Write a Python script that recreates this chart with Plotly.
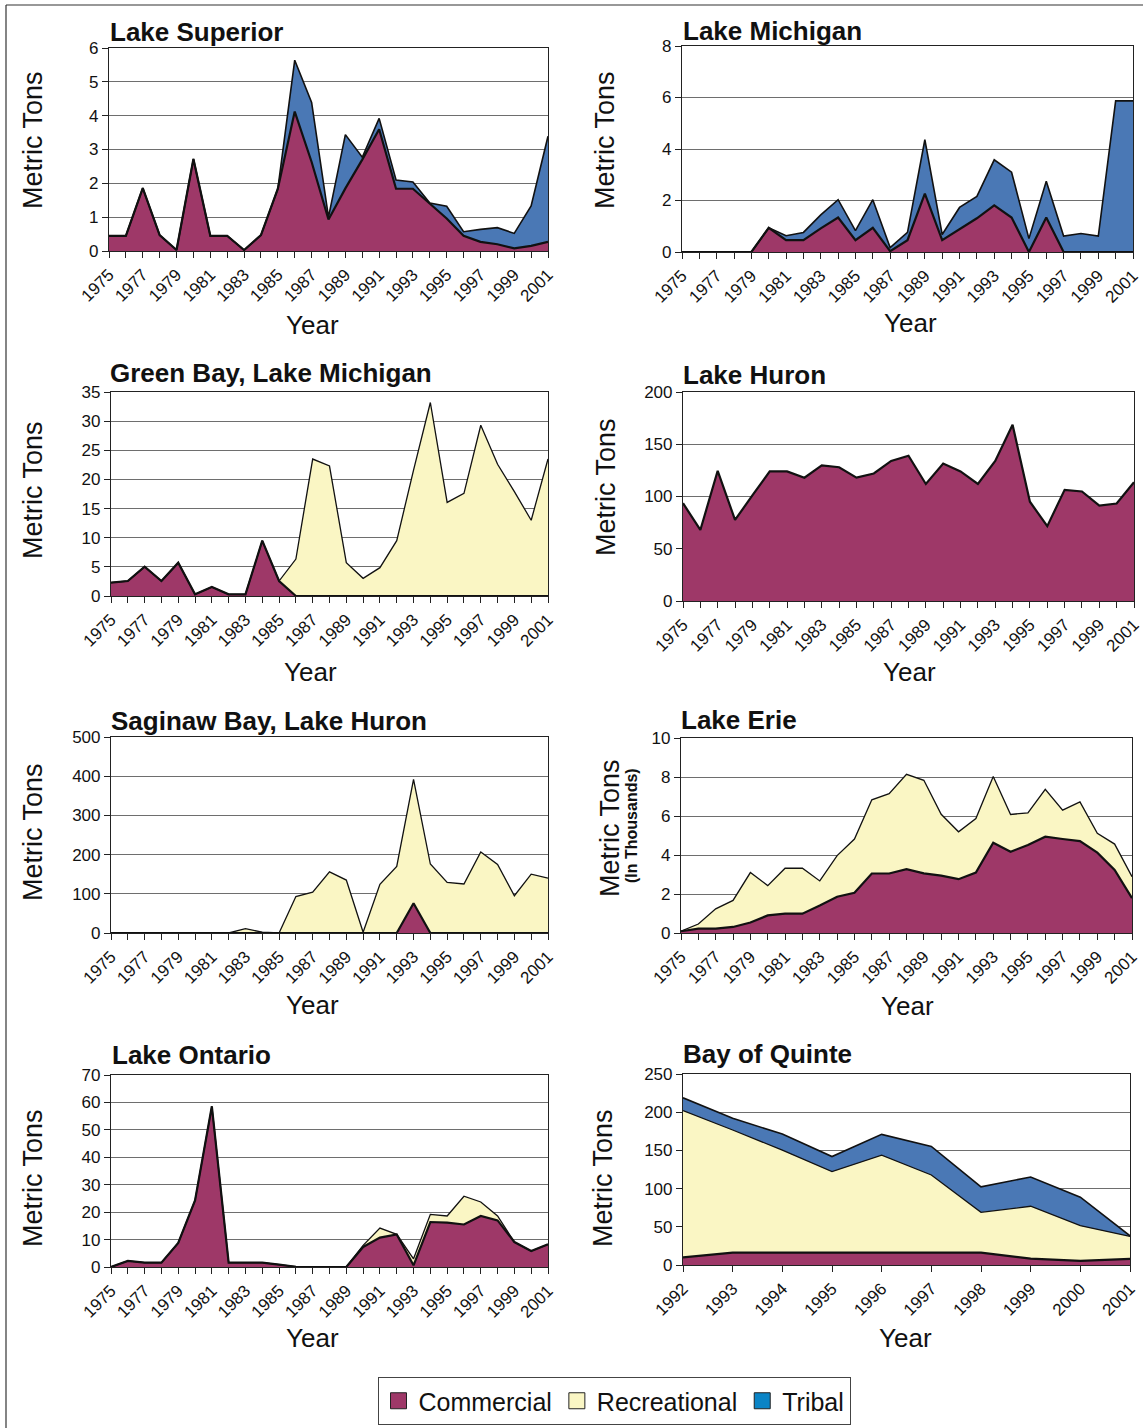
import plotly.graph_objects as go

W, H = 1143, 1428

years = list(range(1975, 2002))
quinte_years = list(range(1992, 2002))

superior_commercial = [0.45, 0.45, 1.86, 0.47, 0.03, 2.72, 0.45, 0.45, 0.03, 0.47, 1.84, 4.12, 2.63, 0.93,
                       1.85, 2.70, 3.60, 1.84, 1.84, 1.40, 0.96, 0.45, 0.27, 0.20, 0.08, 0.15, 0.27]
superior_tribal = [0, 0, 0, 0, 0, 0, 0, 0, 0, 0, 0, 1.52, 1.76, 0.07,
                   1.59, 0.07, 0.32, 0.26, 0.20, 0.02, 0.36, 0.12, 0.37, 0.49, 0.44, 1.18, 3.12]

michigan_commercial = [0, 0, 0, 0, 0, 0.94, 0.46, 0.46, 0.92, 1.34, 0.46, 0.94, 0.03, 0.46,
                       2.27, 0.46, 0.89, 1.31, 1.81, 1.34, 0, 1.34, 0, 0, 0, 0, 0]
michigan_tribal = [0, 0, 0, 0, 0, 0, 0.17, 0.30, 0.52, 0.69, 0.37, 1.09, 0.14, 0.30,
                   2.09, 0.22, 0.84, 0.85, 1.77, 1.76, 0.52, 1.41, 0.62, 0.72, 0.62, 5.87, 5.87]

greenbay_commercial = [2.29, 2.57, 5.03, 2.57, 5.71, 0.29, 1.54, 0.29, 0.29, 9.49, 2.57, 0, 0, 0,
                       0, 0, 0, 0, 0, 0, 0, 0, 0, 0, 0, 0, 0]
greenbay_recreational = [0, 0, 0, 0, 0, 0, 0, 0, 0, 0, 0, 6.34, 23.5, 22.3,
                         5.71, 3.03, 4.86, 9.49, 21.6, 33.2, 16.06, 17.6, 29.3, 22.6, 17.9, 13.0, 23.5]

huron_commercial = [93.6, 68, 124.6, 77.6, 101, 124, 124, 118, 129.7, 128, 118, 122, 134, 139,
                    112, 131.6, 124, 112, 134, 168.7, 95, 71.6, 106.4, 104.8, 91.4, 93.3, 113.7]

saginaw_commercial = [0, 0, 0, 0, 0, 0, 0, 0, 0, 0, 0, 0, 0, 0,
                      0, 0, 0, 0, 76, 0, 0, 0, 0, 0, 0, 0, 0]
saginaw_recreational = [0, 0, 0, 0, 0, 0, 0, 0, 11, 2, 0, 93, 104, 156,
                        135, 2, 124, 170, 316, 176, 129, 125, 207, 175, 95, 150, 140]

erie_commercial = [0.09, 0.22, 0.22, 0.31, 0.54, 0.90, 0.99, 0.99, 1.41, 1.86, 2.06, 3.05, 3.05, 3.27,
                   3.06, 2.94, 2.76, 3.10, 4.63, 4.17, 4.51, 4.94, 4.82, 4.71, 4.12, 3.23, 1.79]
erie_recreational = [0, 0.24, 1.02, 1.36, 2.56, 1.53, 2.33, 2.33, 1.26, 2.11, 2.76, 3.78, 4.10, 4.87,
                     4.77, 3.15, 2.43, 2.77, 3.40, 1.91, 1.65, 2.43, 1.48, 2.01, 0.99, 1.33, 1.10]

ontario_commercial = [0, 2.2, 1.6, 1.6, 8.8, 24.3, 58.6, 1.6, 1.6, 1.6, 0.85, 0.1, 0, 0,
                      0, 7.3, 10.7, 11.9, 0.6, 16.4, 16.2, 15.5, 18.6, 17.0, 9.1, 5.8, 8.3]
ontario_recreational = [0, 0, 0, 0, 0, 0, 0, 0, 0, 0, 0, 0, 0, 0,
                        0, 0.6, 3.5, 0, 2.4, 2.8, 2.4, 10.3, 5.1, 1.6, 0, 0, 0]

quinte_commercial = [10.1, 16.3, 16.3, 16.3, 16.3, 16.3, 16.3, 8.4, 5.3, 7.9]
quinte_recreational = [191.9, 160.4, 134.0, 105.9, 127.4, 101.5, 52.7, 68.5, 46.1, 29.5]
quinte_tribal = [16.9, 15.3, 21.1, 19.8, 27.3, 37.4, 33.4, 38.3, 37.4, 0.8]

panel_titles = ["Lake Superior", "Lake Michigan", "Green Bay, Lake Michigan", "Lake Huron",
                "Saginaw Bay, Lake Huron", "Lake Erie", "Lake Ontario", "Bay of Quinte"]
y_ranges = [(6, 1), (8, 2), (35, 5), (200, 50), (500, 100), (10, 2), (70, 10), (250, 50)]

COL_COM = "#9E3868"
COL_REC = "#FAF6C4"
COL_TRI = "#4A78B5"
COL_TRI_LEG = "#0A84C6"
FONT = "Liberation Sans, Arial, sans-serif"

panels = [
    (years, [("Commercial", superior_commercial), ("Tribal", superior_tribal)]),
    (years, [("Commercial", michigan_commercial), ("Tribal", michigan_tribal)]),
    (years, [("Commercial", greenbay_commercial), ("Recreational", greenbay_recreational)]),
    (years, [("Commercial", huron_commercial)]),
    (years, [("Commercial", saginaw_commercial), ("Recreational", saginaw_recreational)]),
    (years, [("Commercial", erie_commercial), ("Recreational", erie_recreational)]),
    (years, [("Commercial", ontario_commercial), ("Recreational", ontario_recreational)]),
    (quinte_years, [("Commercial", quinte_commercial), ("Recreational", quinte_recreational),
                    ("Tribal", quinte_tribal)]),
]

# plot-area boxes in pixels: (left, right, top, bottom)
boxes = [
    (109, 548, 48, 251), (682, 1133, 46, 252),
    (111, 548, 392, 596), (683, 1134, 392, 601),
    (111, 548, 737, 933), (681, 1132, 738, 933),
    (111, 548, 1075, 1267), (683, 1130, 1074, 1265),
]
title_pos = [(108, 32), (681, 31), (108, 373), (681, 375), (109, 721), (679, 720), (110, 1055), (681, 1054)]
year_pos = [(312, 325), (910, 323), (311, 672), (909, 672), (312, 1005), (907, 1006), (312, 1338), (905, 1338)]
ytitle_pos = [(33, 140), (605, 140), (33, 490), (606, 487), (33, 832), (610, 828), (33, 1178), (603, 1178)]

colors = {"Commercial": COL_COM, "Recreational": COL_REC, "Tribal": COL_TRI}
widths = {"Commercial": 2.2, "Recreational": 1.3, "Tribal": 1.6}

fig = go.Figure()
layout = {}
annotations = []

for i, ((xs, series), box) in enumerate(zip(panels, boxes)):
    n = i + 1
    xa = "x" if n == 1 else f"x{n}"
    ya = "y" if n == 1 else f"y{n}"
    for name, vals in series:
        fig.add_trace(go.Scatter(
            x=xs, y=vals, xaxis=xa, yaxis=ya, mode="lines", stackgroup=f"s{n}",
            line=dict(color="#111111", width=widths[name]),
            fillcolor=colors[name], showlegend=False, hoverinfo="skip", name=name))
    l, r, t, b = box
    ymax, ystep = y_ranges[i]
    is_quinte = (i == 7)
    xaxis = dict(
        domain=[l / W, r / W], anchor=ya, range=[xs[0], xs[-1]], automargin=False,
        tickmode="linear", tick0=xs[0], dtick=1 if is_quinte else 2,
        tickangle=-45, ticks="outside", ticklen=6, tickcolor="#222",
        showline=True, linecolor="#222", linewidth=1.2, mirror=True,
        showgrid=False, zeroline=False,
        tickfont=dict(family=FONT, size=17, color="#111"),
    )
    if not is_quinte:
        xaxis["minor"] = dict(dtick=1, ticks="outside", ticklen=6, tickcolor="#222", showgrid=False)
    layout[f"xaxis{'' if n == 1 else n}"] = xaxis
    layout[f"yaxis{'' if n == 1 else n}"] = dict(
        domain=[1 - b / H, 1 - t / H], anchor=xa, range=[0, ymax], automargin=False,
        tickmode="linear", tick0=0, dtick=ystep,
        ticks="outside", ticklen=6, tickcolor="#222",
        showline=True, linecolor="#222", linewidth=1.2, mirror=True,
        showgrid=True, gridcolor="#6e6e6e", gridwidth=1, zeroline=False,
        tickfont=dict(family=FONT, size=17, color="#111"),
    )
    tx, ty = title_pos[i]
    annotations.append(dict(text=f"<b>{panel_titles[i]}</b>", x=tx / W, y=1 - ty / H,
                            xref="paper", yref="paper", xanchor="left", yanchor="middle",
                            showarrow=False, font=dict(family=FONT, size=26, color="#111")))
    yx, yy = year_pos[i]
    annotations.append(dict(text="Year", x=yx / W, y=1 - yy / H, xref="paper", yref="paper",
                            xanchor="center", yanchor="middle", showarrow=False,
                            font=dict(family=FONT, size=26, color="#111")))
    mx, my = ytitle_pos[i]
    annotations.append(dict(text="Metric Tons", x=mx / W, y=1 - my / H, xref="paper", yref="paper",
                            xanchor="center", yanchor="middle", showarrow=False, textangle=-90,
                            font=dict(family=FONT, size=27, color="#111")))

annotations.append(dict(text="<b>(In Thousands)</b>", x=631 / W, y=1 - 826 / H, xref="paper", yref="paper",
                        xanchor="center", yanchor="middle", showarrow=False, textangle=-90,
                        font=dict(family=FONT, size=16, color="#111")))

# legend-only traces
for name, col in [("Commercial", COL_COM), ("Recreational", COL_REC), ("Tribal", COL_TRI_LEG)]:
    fig.add_trace(go.Scatter(x=[None], y=[None], mode="markers", name=name,
                             marker=dict(symbol="square", size=16, color=col,
                                         line=dict(color="#222", width=1)),
                             showlegend=True, hoverinfo="skip"))

fig.update_layout(
    template="none",
    width=W, height=H, margin=dict(l=0, r=0, t=0, b=0, autoexpand=False),
    paper_bgcolor="white", plot_bgcolor="white",
    font=dict(family=FONT, color="#111"),
    annotations=annotations,
    showlegend=True,
    legend=dict(orientation="h", x=614 / W, xanchor="center", y=1 - 1377 / H, yanchor="top",
                traceorder="normal",
                bordercolor="#444", borderwidth=1, bgcolor="white",
                font=dict(family=FONT, size=25, color="#111"), itemwidth=30),
    shapes=[
        dict(type="line", xref="paper", yref="paper", x0=6 / W, x1=6 / W, y0=0, y1=1 - 5 / H,
             line=dict(color="#333", width=1.2)),
        dict(type="line", xref="paper", yref="paper", x0=6 / W, x1=1, y0=1 - 5 / H, y1=1 - 5 / H,
             line=dict(color="#333", width=1.2)),
    ],
    **layout,
)

fig.write_html("out.html", config={"displayModeBar": False},
               post_script="document.body.style.margin='0';document.body.style.padding='0';")
